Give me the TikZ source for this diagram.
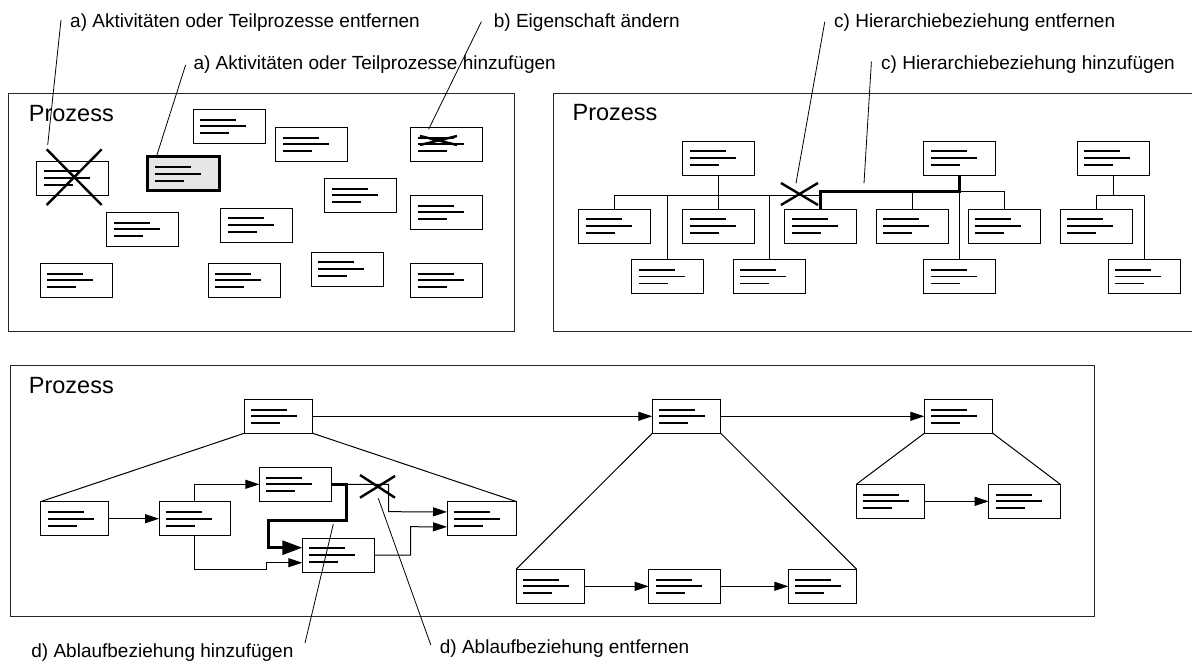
\documentclass[tikz,border=0pt]{standalone}
\usepackage{fontspec}
\setmainfont{Liberation Sans}
\usetikzlibrary{arrows.meta}
\definecolor{hlgray}{RGB}{230,230,230}
\begin{document}
\begin{tikzpicture}[x=1pt,y=-1pt,
  frame/.style={draw=black!85,line width=1pt},
  doc/.style={draw=black,line width=1pt,fill=white,inner sep=0pt,outer sep=0pt,
    minimum height=34pt,minimum width=#1,anchor=north west,
    path picture={
      \coordinate (pp) at (path picture bounding box.north west);
      \draw[line width=1.8pt] ([shift={(7pt,-10.3pt)}]pp) -- ++(36pt,0pt);
      \draw[line width=1.8pt] ([shift={(7pt,-17pt)}]pp) -- ++(46pt,0pt);
      \draw[line width=1.8pt] ([shift={(7pt,-24pt)}]pp) -- ++(29pt,0pt);
    }},
  doc/.default=72pt,
  newdoc/.style={line width=2.7pt,fill=hlgray},
  lbl/.style={inner sep=0pt,anchor=base west,font=\fontsize{19}{22}\selectfont},
  proc/.style={inner sep=0pt,anchor=base west,font=\fontsize{23.5}{28}\selectfont},
  lead/.style={line width=0.8pt},
  cross/.style={line width=2.4pt},
  tree/.style={line width=1pt},
  bold/.style={line width=3pt},
  flow/.style={line width=1pt,-{Triangle[length=14pt,width=9pt]}},
  boldflow/.style={line width=3pt,-{Triangle[length=20pt,width=14pt]}}
]
\useasboundingbox (0,0) rectangle (1192,664);

% ---------- frames ----------
\draw[frame] (8.4,93.3) rectangle (514.7,331.7);
\draw[frame] (1192,93.3) -- (553.3,93.3) -- (553.3,331.7) -- (1192,331.7);
\draw[frame] (10.3,365) rectangle (1094.3,616.7);

\node[proc] (p1) at (28.7,121.7) {Prozess};
\node[proc] (p2) at (572.4,120.7) {Prozess};
\node[proc] (p3) at (28.7,393.3) {Prozess};

% ---------- labels ----------
\node[lbl] (l1) at (70,27.5) {a) Aktivitäten oder Teilprozesse entfernen};
\node[lbl] (l2) at (493.7,27.5) {b) Eigenschaft ändern};
\node[lbl] (l3) at (193.3,69.5) {a) Aktivitäten oder Teilprozesse hinzufügen};
\node[lbl] (l4) at (834,27.5) {c) Hierarchiebeziehung entfernen};
\node[lbl] (l5) at (881,69.5) {c) Hierarchiebeziehung hinzufügen};
\node[lbl] (l6) at (31.2,657) {d) Ablaufbeziehung hinzufügen};
\node[lbl] (l7) at (439.7,653.3) {d) Ablaufbeziehung entfernen};

% ---------- panel 1: unordered activities ----------
\node[doc] (b1) at (36.7,161) {};
\node[doc,newdoc] (b2) at (147.7,156.7) {};
\node[doc] (b3) at (193.3,109.3) {};
\node[doc] (b4) at (275.5,127.3) {};
\node[doc] (b5) at (410.6,127.3) {};
\node[doc] (b6) at (324.5,178.3) {};
\node[doc] (b7) at (410.5,195.3) {};
\node[doc] (b8) at (106.8,212.3) {};
\node[doc] (b9) at (220.8,208) {};
\node[doc] (b10) at (40.3,263.3) {};
\node[doc] (b11) at (208.4,263.3) {};
\node[doc] (b12) at (311,252) {};
\node[doc] (b13) at (410.5,263.3) {};

\draw[cross] (46.7,149.3) -- (101.7,205) (101.7,149.3) -- (46.7,205);
\draw[cross] (420,136) -- (457,145) (420,145) -- (457,136);

% ---------- panel 2: hierarchy ----------
\node[doc] (t1) at (682.6,141) {};
\node[doc] (t2) at (923.8,141) {};
\node[doc] (t3) at (1077,141) {};
\node[doc] (c1) at (578.7,209) {};
\node[doc] (c2) at (682.6,209) {};
\node[doc] (c3) at (784.5,209) {};
\node[doc] (c4) at (876.4,209) {};
\node[doc] (c5) at (968,209) {};
\node[doc] (c6) at (1060,209) {};
\node[doc] (d1) at (631.5,259.5) {};
\node[doc] (d2) at (733.3,259.5) {};
\node[doc] (d3) at (923.8,259.5) {};
\node[doc] (d4) at (1108,259.5) {};

\coordinate (busA) at (0,195.3);
\coordinate (busB) at (0,191.7);

\draw[tree] (t1.south) -- (c2.north);
\draw[tree] (c1.north) |- (c3.north |- busA);
\draw[tree] (d1.north) -- (d1.north |- busA);
\draw[tree] (d2.north) -- (d2.north |- busA);

\draw[tree] (t2.south |- busB) -| (c5.north);
\draw[tree] (c4.north) -- (c4.north |- busB);
\draw[tree] (t2.south |- busB) -- (d3.north);
\draw[bold] (c3.north) |- (t2.south |- busB) -- (t2.south);

\draw[tree] (t3.south) -- (t3.south |- busA);
\draw[tree] (c6.north) |- (d4.north |- busA) -- (d4.north);

\draw[cross] (781,183) -- (818,205) (781,205) -- (818,183);

% ---------- panel 3: flow ----------
\node[doc=68.5pt] (a1) at (244.2,399.3) {};
\node[doc=68.5pt] (a2) at (652.3,399.3) {};
\node[doc=68.5pt] (a3) at (924.3,399.3) {};
\node[doc=68pt] (s1) at (40.5,501.7) {};
\node[doc=71.8pt] (s2) at (159,501.7) {};
\node[doc=71.8pt] (s3) at (259.4,467.3) {};
\node[doc=71.7pt] (s4) at (302.3,538) {};
\node[doc=69.8pt] (s5) at (447,501.7) {};
\node[doc=68pt] (r1) at (856.3,484.3) {};
\node[doc=71.6pt] (r2) at (988.7,484.3) {};
\node[doc=68.7pt] (u1) at (516,569.3) {};
\node[doc=72pt] (u2) at (648.7,569.3) {};
\node[doc=68.4pt] (u3) at (788.3,569.3) {};

\draw[flow] (a1.east) -- (a2.west);
\draw[flow] (a2.east) -- (a3.west);

\draw[tree] (a1.south west) -- (s1.north west);
\draw[tree] (a1.south east) -- (s5.north east);
\draw[tree] (a2.south west) -- (u1.north west);
\draw[tree] (a2.south east) -- (u3.north east);
\draw[tree] (a3.south west) -- (r1.north west);
\draw[tree] (a3.south east) -- (r2.north east);

\draw[flow] (s1.east) -- (s2.west);
\draw[flow] (s2.north) |- (s3.west);
\draw[flow] (s2.south) |- (266.7,569.3) |- ([yshift=-7.7pt]s4.west);
\draw[flow] (s3.east) -| (388.5,511.7) -- ([yshift=6.8pt]s5.west);
\draw[flow] (s4.east) -| (410.5,526.7) -- ([yshift=-8.2pt]s5.west);
\draw[boldflow] (s3.east) -| (346.7,520) -| (268.3,547.7) -- ([yshift=7.3pt]s4.west);

\draw[flow] (r1.east) -- (r2.west);
\draw[flow] (u1.east) -- (u2.west);
\draw[flow] (u2.east) -- (u3.west);

\draw[cross] (360,475) -- (395,497.7) (360,497.7) -- (395,476);

% ---------- leader lines ----------
\coordinate (k1a) at (61,20);      \coordinate (k1b) at (47.7,145);
\coordinate (k2a) at (481.4,21.7); \coordinate (k2b) at (428.6,129.3);
\coordinate (k3a) at (185.6,65);   \coordinate (k3b) at (156.9,155);
\coordinate (k4a) at (824.8,21.7); \coordinate (k4b) at (796,183.3);
\coordinate (k5a) at (871.4,61.7); \coordinate (k5b) at (864,183.3);
\coordinate (k6a) at (305,643);    \coordinate (k6b) at (333.3,524);
\coordinate (k7a) at (430.8,645);  \coordinate (k7b) at (378.3,498.3);
\draw[lead] (k1a) -- (k1b);
\draw[lead] (k2a) -- (k2b);
\draw[lead] (k3a) -- (k3b);
\draw[lead] (k4a) -- (k4b);
\draw[lead] (k5a) -- (k5b);
\draw[lead] (k6a) -- (k6b);
\draw[lead] (k7a) -- (k7b);
\end{tikzpicture}
\end{document}
